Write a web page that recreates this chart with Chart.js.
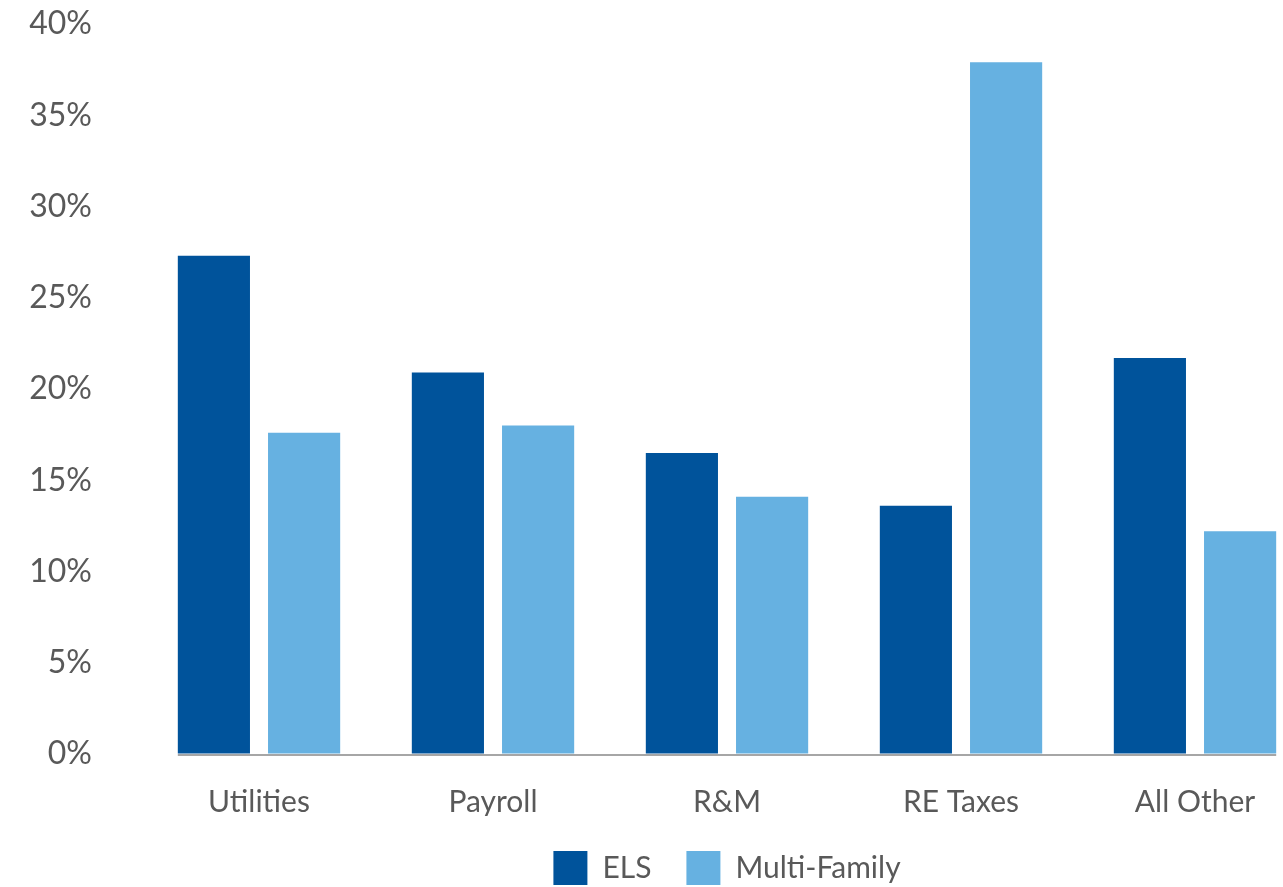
<!DOCTYPE html>
<html>
<head>
<meta charset="utf-8">
<script src="https://cdn.jsdelivr.net/npm/chart.js@4"></script>
<style>
  html, body { margin: 0; padding: 0; background: #fff; overflow: hidden; }
  #wrap { width: 1283px; height: 887px; overflow: hidden; }
</style>
</head>
<body>
<div id="wrap"><canvas id="myChart" width="1312" height="887"></canvas></div>
<script>
// chart data
const categories = ["Utilities", "Payroll", "R&M", "RE Taxes", "All Other"]
const elsValues = [27.3, 20.9, 16.5, 13.6, 21.7]
const multiFamilyValues = [17.6, 18.0, 14.1, 37.9, 12.2]
const yTicks = [0, 5, 10, 15, 20, 25, 30, 35, 40]

const textColor = "#595959"
const fontFamily = "Lato, 'Open Sans', sans-serif"

// axis line only under the bars, like the original
const baseLine = {
  id: "baseLine",
  afterDatasetsDraw(chart) {
    const first = chart.getDatasetMeta(0).data[0]
    const lastMeta = chart.getDatasetMeta(1).data
    const last = lastMeta[lastMeta.length - 1]
    const y = chart.scales.y.getPixelForValue(0)
    const c = chart.ctx
    c.save()
    c.strokeStyle = "#A6A6A6"
    c.lineWidth = 2
    c.beginPath()
    c.moveTo(first.x - first.width / 2, y + 1)
    c.lineTo(last.x + last.width / 2, y + 1)
    c.stroke()
    c.restore()
  },
}

const ctx = document.getElementById("myChart").getContext("2d")
const myChart = new Chart(ctx, {
  type: "bar",
  data: {
    labels: categories,
    datasets: [
      {
        label: "ELS",
        data: elsValues,
        backgroundColor: "#00539B",
        categoryPercentage: 0.771,
        barPercentage: 0.8,
      },
      {
        label: "Multi-Family",
        data: multiFamilyValues,
        backgroundColor: "#66B1E1",
        categoryPercentage: 0.771,
        barPercentage: 0.8,
      },
    ],
  },
  plugins: [baseLine],
  options: {
    responsive: false,
    animation: false,
    layout: { padding: { top: 24, right: 0, bottom: -8, left: 0 } },
    plugins: {
      tooltip: { enabled: false },
      legend: {
        position: "bottom",
        fullSize: false,
        labels: {
          boxWidth: 34,
          boxHeight: 34,
          padding: 35,
          color: textColor,
          font: { family: fontFamily, size: 30 },
        },
      },
    },
    scales: {
      x: {
        grid: { color: "transparent", drawOnChartArea: false, drawTicks: true, tickLength: 35 },
        border: { display: false },
        ticks: {
          color: textColor,
          padding: 0,
          font: { family: fontFamily, size: 30, lineHeight: 0.9 },
        },
      },
      y: {
        min: 0,
        max: 40,
        afterFit(scale) {
          scale.width = 142
        },
        afterBuildTicks(scale) {
          scale.ticks = yTicks.map((v) => ({ value: v }))
        },
        grid: { color: "transparent", drawOnChartArea: false, drawTicks: true, tickLength: 50 },
        border: { display: false },
        ticks: {
          color: textColor,
          padding: 0,
          font: { family: fontFamily, size: 32 },
          callback: (v) => v + "%",
        },
      },
    },
  },
})
</script>
</body>
</html>
